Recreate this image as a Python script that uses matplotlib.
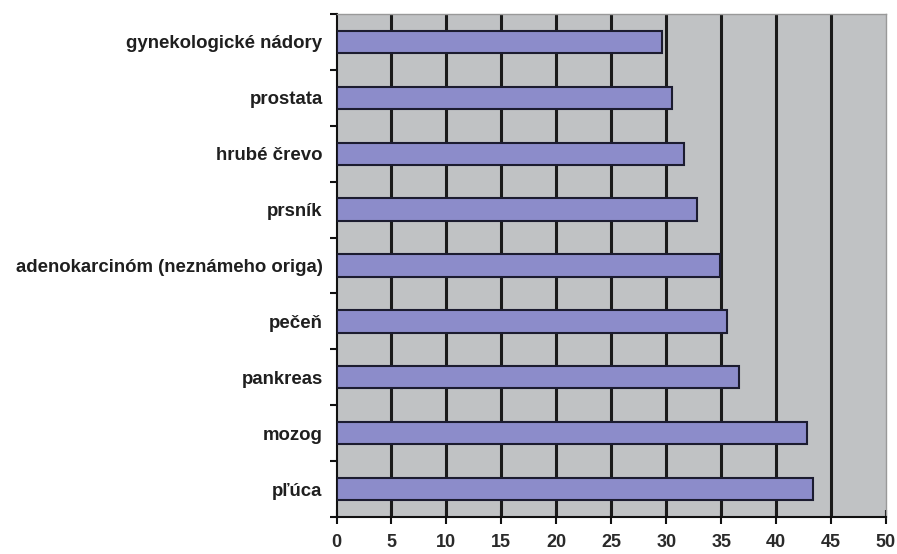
import matplotlib
matplotlib.use("Agg")
import matplotlib.pyplot as plt
import numpy as np

categories = ["pľúca", "mozog", "pankreas", "pečeň", "adenokarcinóm (neznámeho origa)",
              "prsník", "hrubé črevo", "prostata", "gynekologické nádory"]
values = [43.4, 42.8, 36.6, 35.5, 34.9, 32.8, 31.6, 30.5, 29.6]
xticks = [0, 5, 10, 15, 20, 25, 30, 35, 40, 45, 50]

plt.rcParams['font.family'] = ['Liberation Sans', 'DejaVu Sans']

fig = plt.figure(figsize=(8.97, 5.54), dpi=100)
ax = fig.add_axes([336.5/897, 1-517/554, (886-336.5)/897, (517-14)/554])
ax.set_facecolor('#c0c2c4')

y = np.arange(len(categories))
ax.barh(y, values, height=0.4, color='#8c8cca', edgecolor='#1c1c30', linewidth=1.5, zorder=3)

ax.set_xlim(0, 50)
ax.set_ylim(-0.5, len(categories) - 0.5)
ax.set_xticks(xticks)
ax.set_xticklabels([str(t) for t in xticks], fontsize=13, fontweight='bold', color='#2a2a2a')
for t in xticks[1:-1]:
    ax.axvline(t, color='#1a1a1a', linewidth=2.2, zorder=2)

ax.set_yticks(y)
ax.set_yticklabels(categories, fontsize=13.4, fontweight='bold', color='#1f1f1f')
ax.set_yticks(np.arange(-0.5, len(categories), 1), minor=True)
ax.tick_params(axis='y', which='major', length=0, pad=10)
ax.tick_params(axis='y', which='minor', length=5, width=1.5, direction='out', color='#111111')
ax.tick_params(axis='x', which='major', length=10, width=1.5, direction='inout', color='#111111', pad=7)

for s in ['top', 'right']:
    ax.spines[s].set_color('#999999')
    ax.spines[s].set_linewidth(1)
for s in ['left', 'bottom']:
    ax.spines[s].set_color('#111111')
    ax.spines[s].set_linewidth(1.5)

fig.savefig('out.png', dpi=100)
